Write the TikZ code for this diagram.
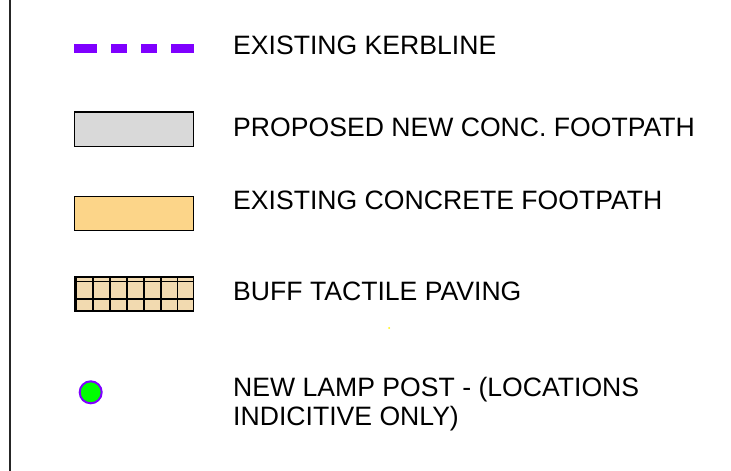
\documentclass[tikz,border=0pt]{standalone}
\usepackage{fontspec}
\setmainfont{Liberation Sans}
\definecolor{kerb}{HTML}{7F00FF}
\definecolor{newpath}{HTML}{D9D9D9}
\definecolor{oldpath}{HTML}{FCD589}
\definecolor{buff}{HTML}{F2DAB0}
\definecolor{lampgreen}{HTML}{00FF00}
\begin{document}
\begin{tikzpicture}[x=1bp,y=-1bp,
  legtext/.style={anchor=base west,inner sep=0pt,font=\fontsize{26.6bp}{28.3bp}\selectfont},
  swatch/.style={draw=black,line width=1.5bp}]
\useasboundingbox (0,0) rectangle (731,471);
\fill[white] (0,0) rectangle (731,471);
% left border line
\draw[line width=2bp,black!85] (9.5,0) -- (9.5,471);
% kerbline
\coordinate (k1) at (74,48.3);
\coordinate (k2) at (194,48.3);
\draw[kerb,line width=8.5bp,dash pattern=on 23bp off 14bp on 16bp off 14bp on 16bp off 14bp on 23bp] (k1) -- (k2);
\node[legtext] (t1) at (233,55) {EXISTING KERBLINE};
% proposed new footpath
\draw[swatch,fill=newpath] (74.3,112) rectangle (193.3,146.5);
\node[legtext] (t2) at (233,136.7) {PROPOSED NEW CONC. FOOTPATH};
% existing footpath
\draw[swatch,fill=oldpath] (74.3,196.3) rectangle (193.3,230.7);
\node[legtext] (t3) at (233,210) {EXISTING CONCRETE FOOTPATH};
% tactile paving
\fill[buff] (75,277) rectangle (193.3,311);
\foreach \x in {92.7,110,126.7,144,160.7,177.3}
  \draw[line width=1.6bp] (\x,277) -- (\x,311);
\foreach \y in {281.7,299.3}
  \draw[line width=1.6bp] (75,\y) -- (193.3,\y);
\draw[swatch] (75,277) rectangle (193.3,311);
\draw[line width=3bp] (75.5,277) -- (75.5,311);
\node[legtext] (t4) at (233,300.7) {BUFF TACTILE PAVING};
% lamp post
\node[circle,draw=kerb,line width=2bp,fill=lampgreen,minimum size=22bp,inner sep=0pt] (lamp) at (90.7,392.3) {};
\node[legtext] (t5) at (233,396.7) {NEW LAMP POST - (LOCATIONS};
\node[legtext] (t6) at (233,425) {INDICITIVE ONLY)};
% small yellow speck
\fill[yellow] (389,328) circle (1bp);
\end{tikzpicture}
\end{document}
